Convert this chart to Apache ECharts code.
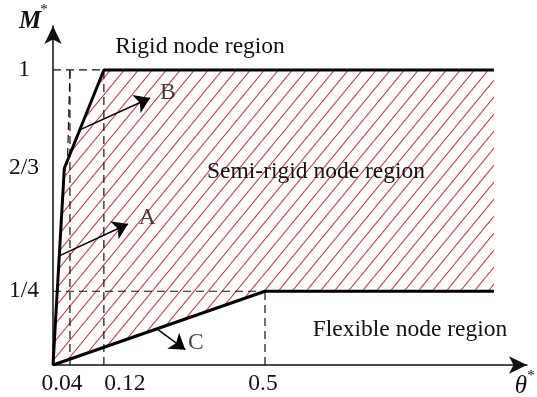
<!DOCTYPE html>
<html>
<head>
<meta charset="utf-8">
<script src="https://cdn.jsdelivr.net/npm/echarts@6/dist/echarts.min.js"></script>
<style>
  html, body { margin: 0; padding: 0; background: #fff; }
  #chart { width: 537px; height: 397px; }
</style>
</head>
<body>
<div id="chart"></div>
<script>
// Joint classification by rotational stiffness (normalised M* vs theta*)
const rigidTheta = [0, 0.0267, 0.12, 1.04];
const rigidM     = [0, 2 / 3, 1, 1];
const flexTheta  = [0, 0.5, 1.04];
const flexM      = [0, 0.25, 0.25];

const xTickValues = [0.04, 0.12, 0.5];
const xTickLabels = ['0.04', '0.12', '0.5'];
const yTickValues = [0.25, 2 / 3, 1];
const yTickLabels = ['1/4', '2/3', '1'];

// secondary dashed guide near theta = 0.04
const guideSlantTheta = [0.04, 0.034];
const guideSlantM     = [1, 0.68];

// annotation arrows (tail -> head) and their letters
const arrowNames  = ['A', 'B', 'C'];
const arrowTail   = [[0.0148, 0.37], [0.063, 0.797], [0.245, 0.1225]];
const arrowHead   = [[0.177, 0.478], [0.229, 0.905], [0.312, 0.052]];
const letterPos   = [[0.222, 0.498], [0.271, 0.922], [0.337, 0.075]];

const FONT = '"Liberation Serif", "Times New Roman", serif';
const FS = 23.5;

const rigidPts = rigidTheta.map((t, i) => [t, rigidM[i]]);
const flexPts  = flexTheta.map((t, i) => [t, flexM[i]]);
const regionPts = rigidPts.concat(flexPts.slice().reverse());

// diagonal red hatching tile
function makeHatch() {
  const w = 14, h = 17;
  const c = document.createElement('canvas');
  c.width = w; c.height = h;
  const ctx = c.getContext('2d');
  ctx.strokeStyle = 'rgba(200,40,40,0.95)';
  ctx.lineWidth = 1.1;
  for (let k = -1; k <= 1; k++) {
    ctx.beginPath();
    ctx.moveTo(k * w, h);
    ctx.lineTo(k * w + w, 0);
    ctx.stroke();
  }
  return c;
}
const hatch = makeHatch();

const guides = [
  [[0, yTickValues[2]], [xTickValues[1], yTickValues[2]]],
  [[0, yTickValues[0]], [xTickValues[2], yTickValues[0]]],
  [[xTickValues[0], 0], [xTickValues[0], yTickValues[2]]],
  [[xTickValues[1], 0], [xTickValues[1], yTickValues[2]]],
  [[xTickValues[2], 0], [xTickValues[2], yTickValues[0]]],
  guideSlantTheta.map((t, i) => [t, guideSlantM[i]])
];

const dashedSeries = guides.map(seg => ({
  type: 'line',
  data: seg,
  showSymbol: false,
  silent: true,
  z: 3,
  lineStyle: { color: '#111', width: 1.2, type: [8, 5] }
}));

const xLabelRich = {
  a: { fontFamily: FONT, fontSize: FS, color: '#111', padding: [0, 16, 0, 0] },
  b: { fontFamily: FONT, fontSize: FS, color: '#111', padding: [0, 0, 0, 42] },
  c: { fontFamily: FONT, fontSize: FS, color: '#111', padding: [0, 4, 0, 0] }
};
const richKeys = ['a', 'b', 'c'];

function nearestIndex(arr, v) {
  let best = 0;
  arr.forEach((a, i) => { if (Math.abs(a - v) < Math.abs(arr[best] - v)) best = i; });
  return best;
}

function label(text, x, y, font) {
  return { type: 'text', x: x, y: y, z: 20,
    style: { text: text, font: font, fill: '#111', textAlign: 'center', textVerticalAlign: 'middle' } };
}

const chart = echarts.init(document.getElementById('chart'), null, { renderer: 'canvas' });

chart.setOption({
  animation: false,
  backgroundColor: '#fff',
  grid: { left: 53, right: 10, top: 26, bottom: 32, containLabel: false },
  xAxis: {
    type: 'value',
    min: 0,
    max: 1.118,
    splitLine: { show: false },
    axisTick: { show: false },
    axisLine: {
      onZero: false,
      symbol: ['none', 'arrow'],
      symbolSize: [13, 18],
      lineStyle: { color: '#111', width: 1.5 }
    },
    axisLabel: {
      customValues: xTickValues,
      margin: 7,
      fontFamily: FONT,
      fontSize: FS,
      color: '#111',
      formatter: v => {
        const i = nearestIndex(xTickValues, v);
        return '{' + richKeys[i] + '|' + xTickLabels[i] + '}';
      },
      rich: xLabelRich
    }
  },
  yAxis: {
    type: 'value',
    min: 0,
    max: 1.149,
    splitLine: { show: false },
    axisTick: { show: false },
    axisLine: {
      onZero: false,
      symbol: ['none', 'arrow'],
      symbolSize: [13, 18],
      lineStyle: { color: '#111', width: 1.5 }
    },
    axisLabel: {
      customValues: yTickValues,
      margin: 29,
      align: 'center',
      fontFamily: FONT,
      fontSize: FS,
      color: '#111',
      formatter: v => yTickLabels[nearestIndex(yTickValues, v)]
    }
  },
  graphic: [
    label('Rigid node region', 200, 47, FS + 'px ' + FONT),
    label('Semi-rigid node region', 316, 172, FS + 'px ' + FONT),
    label('Flexible node region', 410, 330, FS + 'px ' + FONT),
    label('M', 30, 22, 'italic bold 25px ' + FONT),
    label('*', 44, 10, '15px ' + FONT),
    label('θ', 521, 386, 'italic 25px ' + FONT),
    label('*', 531, 376, '15px ' + FONT)
  ],
  series: [
    {
      type: 'custom',
      silent: true,
      z: 1,
      data: [0],
      renderItem: (params, api) => ({
        type: 'polygon',
        shape: { points: regionPts.map(p => api.coord(p)) },
        style: { fill: { image: hatch, repeat: 'repeat' }, stroke: null }
      })
    },
    ...dashedSeries,
    {
      type: 'line', data: rigidPts, showSymbol: false, silent: true, z: 5,
      lineStyle: { color: '#000', width: 3 }
    },
    {
      type: 'line', data: flexPts, showSymbol: false, silent: true, z: 5,
      lineStyle: { color: '#000', width: 3 }
    },
    {
      type: 'lines',
      coordinateSystem: 'cartesian2d',
      silent: true,
      z: 6,
      symbol: ['none', 'arrow'],
      symbolSize: 15,
      lineStyle: { color: '#000', width: 1.5, opacity: 1, curveness: 0 },
      data: arrowTail.map((t, i) => ({ coords: [t, arrowHead[i]] }))
    },
    {
      type: 'scatter',
      silent: true,
      z: 7,
      symbolSize: 0,
      data: letterPos.map((p, i) => ({ value: p, name: arrowNames[i] })),
      label: {
        show: true, position: 'inside', formatter: '{b}',
        fontFamily: FONT, fontSize: FS, color: '#111'
      }
    }
  ]
});
</script>
</body>
</html>
